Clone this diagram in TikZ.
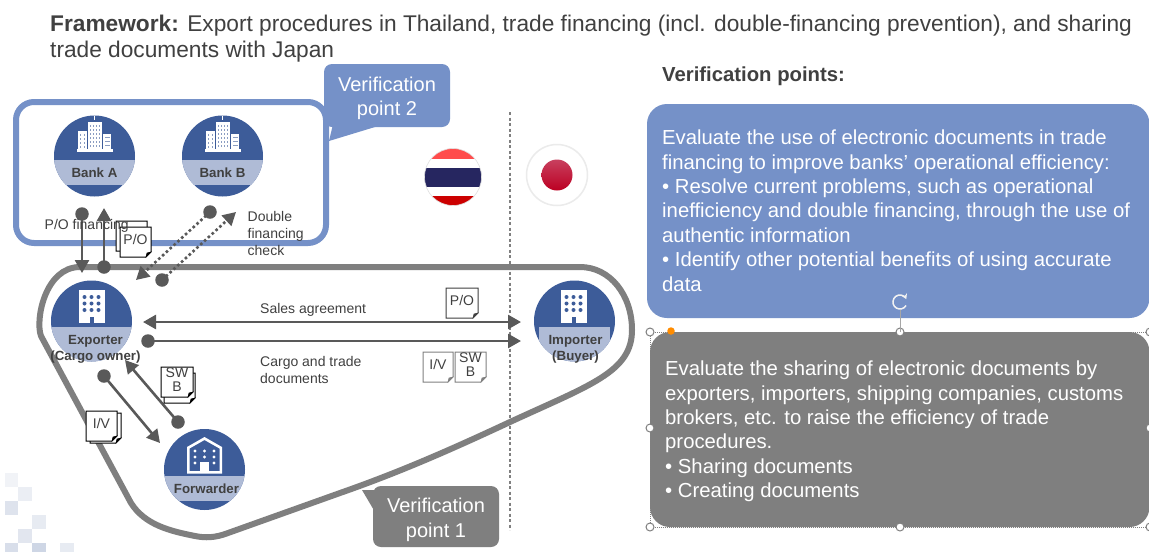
\documentclass[tikz,border=0pt]{standalone}
\usepackage{fontspec}
\setmainfont{Liberation Sans}
\usetikzlibrary{arrows.meta,calc}
\definecolor{vblue}{HTML}{7591C8}
\definecolor{vgrey}{HTML}{7F7F7F}
\definecolor{dblue}{HTML}{3D5C99}
\definecolor{lblue}{HTML}{AFBBD6}
\definecolor{ink}{HTML}{404040}
\definecolor{arrowc}{HTML}{595959}
\definecolor{thnavy}{HTML}{262660}
\definecolor{suntop}{HTML}{C8405F}
\definecolor{sunbot}{HTML}{BC0022}
\tikzset{
  flow/.style={draw=arrowc,line width=2.6pt,-{Triangle[length=13pt,width=14pt]}},
  flowboth/.style={draw=arrowc,line width=2.6pt,{Triangle[length=13pt,width=14pt]}-{Triangle[length=13pt,width=14pt]}},
  dotflow/.style={draw=arrowc,line width=2.6pt,dash pattern=on 2.6pt off 2.6pt,-{Triangle[length=13pt,width=14pt]}},
  enddot/.style={circle,fill=arrowc,minimum size=13.5pt,inner sep=0pt},
  small/.style={font=\fontsize{14}{17}\selectfont,text=ink,inner sep=0pt,align=left},
  actor/.style={font=\fontsize{13.3}{16}\bfseries\selectfont,text=ink,inner sep=0pt,align=center},
  docl/.style={font=\fontsize{14}{14}\selectfont,text=ink,inner sep=0pt,align=center},
  handle/.style={circle,draw=gray,fill=white,line width=1pt,minimum size=8pt,inner sep=0pt},
  wm/.style={fill=dblue}
}
\newcommand{\sheet}[7]{% name x y w h text colour
  \draw[draw=#7,fill=white,line width=1pt]
    (#2,#3) -- ++(#4,0) -- ++(0,#5-5) -- ++(-5,5) -- ++(5-#4,0) -- cycle;
  \draw[draw=#7,fill=#7,line width=.6pt] (#2+#4-5,#3+#5) -- ++(1,-4) -- ++(4,-1) -- cycle;
  \node[docl] (#1) at (#2+#4/2,#3+#5/2-2.5) {#6};
}
\newcommand{\bankicon}[2]{% centre x, base y
  \begin{scope}[shift={(#1,#2)}]
    \fill[white] (-18,-4) rectangle (18,-1.5);
    \fill[white] (-17,-22) rectangle (-8,-3);
    \fill[white] (-7,-31) rectangle (7,-3);
    \fill[white] (8,-19) rectangle (16,-3);
    \fill[white] (-5,-31) arc (180:0:5) -- cycle;
    \fill[white] (-.8,-37) rectangle (.8,-33);
    \foreach \xx in {-15,-11}\foreach \yy in {-19,-15,-11,-7}\fill[dblue!60] (\xx,\yy) rectangle +(1.6,1.6);
    \foreach \xx in {-5,-2,1,4}\foreach \yy in {-28,-24,-20,-16,-12,-8}\fill[dblue!60] (\xx,\yy) rectangle +(1.3,1.6);
    \foreach \yy in {-16,-12,-8}\fill[dblue!60] (10,\yy) rectangle +(5,1.2);
  \end{scope}
}
\newcommand{\officeicon}[2]{% centre x, top y
  \begin{scope}[shift={(#1,#2)}]
    \fill[white] (-13,0) rectangle (13,33);
    \foreach \xx in {-7,0,7}\foreach \yy in {7,13.5,20}\fill[dblue] (\xx,\yy) circle (2);
    \fill[dblue] (-2,27) rectangle (2,33);
  \end{scope}
}
\newcommand{\actorbase}[4]{% name cx cy band
  \begin{scope}
    \clip (#2,#3) circle (40.5);
    \fill[dblue] (#2-41,#3-41) rectangle (#2+41,#3+41);
    #4
  \end{scope}
  \coordinate (#1) at (#2,#3);
}
\begin{document}
\begin{tikzpicture}[x=1pt,y=-1pt]
\useasboundingbox (0,0) rectangle (1149,552);
\clip (0,0) rectangle (1149,552);
\fill[white] (0,0) rectangle (1149,552);

% watermark
\fill[wm,opacity=.07] (5,473) rectangle (18,487);
\fill[wm,opacity=.10] (18,487) rectangle (32,501);
\fill[wm,opacity=.17] (5,501) rectangle (18,515);
\fill[wm,opacity=.12] (32,515) rectangle (46,529);
\fill[wm,opacity=.15] (18,529) rectangle (32,543);
\fill[wm,opacity=.20] (5,543) rectangle (18,552);
\fill[wm,opacity=.25] (32,543) rectangle (46,552);
\fill[wm,opacity=.12] (60,543) rectangle (74,552);

% title
\node[anchor=north west,inner sep=0pt,align=left,text=ink,font=\fontsize{22.7}{26}\selectfont] (title) at (50,14.5)
 {\textbf{Framework:} Export procedures in Thailand, trade financing (incl. double-financing prevention), and sharing\\trade documents with Japan};

% country divider
\coordinate (divtop) at (510,112);
\coordinate (divbot) at (510,530);
\draw[gray,line width=1.2pt,dash pattern=on 3pt off 2.5pt] (divtop) -- (divbot);

% verification frame 2
\draw[vblue,line width=6pt,rounded corners=18pt] (16,102) rectangle (326,243);
% callout 2
\fill[vblue,rounded corners=8pt] (324,64) -- (450,64) -- (450,127) -- (324,127) -- cycle;
\fill[vblue] (375,127) -- (329,141) -- (334,120) -- cycle;
\node[inner sep=0pt,align=center,text=white,font=\fontsize{20}{24.5}\selectfont] (vp2) at (387,98.5) {Verification\\point 2};

% verification loop 1
\draw[vgrey,line width=6pt] (80,267) -- (580,267)
  .. controls (610,267) and (632,295) .. (632,330)
  .. controls (632,372) and (590,385) .. (510,422)
  .. controls (450,450) and (400,472) .. (340,493)
  -- (228,533) .. controls (215,538) and (205,538) .. (195,536)
  .. controls (170,531) and (145,525) .. (131,503)
  -- (41,336) .. controls (35,320) and (45,267) .. (80,267) -- cycle;
% callout 1
\fill[vgrey,rounded corners=8pt] (373,486) rectangle (499,547);
\fill[vgrey] (362,490) -- (380,490) -- (375,512) -- cycle;
\node[inner sep=0pt,align=center,text=white,font=\fontsize{20}{24.5}\selectfont] (vp1) at (436,520) {Verification\\point 1};

% flags
\begin{scope}
  \clip (453,177) circle (28.5);
  \fill[white] (420,145) rectangle (490,210);
  \fill[red!70!white] (420,145) rectangle (490,159);
  \fill[thnavy] (420,168) rectangle (490,187);
  \fill[red!80!black] (420,196) rectangle (490,210);
\end{scope}
\draw[black!12,line width=.6pt] (453,177) circle (28.5);
\node[circle,draw=black!8,line width=1.5pt,fill=white,minimum size=61pt,inner sep=0pt] (jp) at (557,175) {};
\node[circle,top color=suntop,bottom color=sunbot,minimum size=31pt,inner sep=0pt] (jpsun) at (557,175) {};

% actors
\actorbase{bankA}{94.5}{156}{\fill[lblue] (50,160) rectangle (140,185);}
\actorbase{bankB}{222.5}{156}{\fill[lblue] (180,160) rectangle (265,185);}
\actorbase{exporter}{91.5}{321}{\fill[lblue] (50,327) rectangle (135,365);}
\actorbase{importer}{574.5}{321}{\fill[lblue] (539,327) rectangle (610,365);}
\actorbase{forwarder}{204.5}{469.5}{\fill[lblue] (160,476) rectangle (250,501);}

\bankicon{94.5}{153}
\bankicon{222.5}{153}
\officeicon{91.5}{290}
\officeicon{573.5}{290}
% forwarder icon
\fill[white,even odd rule] (187,447) -- (204.5,437) -- (222,447) -- (222,473.5) -- (187,473.5) -- cycle
   (189.5,448.5) -- (204.5,440) -- (219.5,448.5) -- (219.5,471) -- (189.5,471) -- cycle;
\fill[white] (200,462) rectangle (209,472);
\foreach \xx/\yy in {195/451,204.5/451,214/451,195/457,204.5/457,214/457,195/463,214/463}\fill[white] (\xx,\yy) circle (1.7);

\node[actor] (bankAt) at (94.5,173) {Bank A};
\node[actor] (bankBt) at (222.5,173) {Bank B};
\node[actor] (exportert) at (95.5,349) {Exporter\\(Cargo owner)};
\node[actor] (importert) at (575.5,349) {Importer\\(Buyer)};
\node[actor] (forwardert) at (206.5,489) {Forwarder};

% connector ends
\node[enddot] (d1) at (82,214) {};
\coordinate (t1) at (82,273);
\node[enddot] (d2) at (104,267) {};
\coordinate (t2) at (104,208);
\node[enddot] (d3) at (210,212) {};
\coordinate (t3) at (136,280);
\node[enddot] (d4) at (162,280) {};
\coordinate (t4) at (236,212);
\coordinate (s1) at (143,322);
\coordinate (s2) at (521,322);
\node[enddot] (d5) at (148,341) {};
\coordinate (t5) at (521,341);
\node[enddot] (d6) at (104,376) {};
\coordinate (t6) at (160,443);
\node[enddot] (d7) at (178,422) {};
\coordinate (t7) at (125,360);

\draw[flow] (d1.center) -- (t1);
\draw[flow] (d2.center) -- (t2);
\draw[dotflow] (d3.center) -- (t3);
\draw[dotflow] (d4.center) -- (t4);
\draw[flowboth] (s1) -- (s2);
\draw[flow] (d5.center) -- (t5);
\draw[flow] (d6.center) -- (t6);
\draw[flow] (d7.center) -- (t7);

% documents
\sheet{pob}{116}{221}{31}{30}{}{black}
\sheet{po1}{120}{227}{31}{30}{P/O}{black}
\sheet{swbb}{164}{373}{31}{30}{}{black}
\sheet{swb1}{161}{367}{32}{30}{SW\\B}{black}
\sheet{ivb}{90}{413}{31}{30}{}{black}
\sheet{iv1}{86}{411}{31}{30}{I/V}{black}
\sheet{po2}{446}{288}{32}{30}{P/O}{ink}
\sheet{iv2}{423}{352}{30}{30}{I/V}{gray}
\sheet{swb2}{455}{352}{31}{30}{SW\\B}{gray}

% labels
\node[small,anchor=west] (pofin) at (44.5,226) {P/O financing};
\node[small,anchor=north west] (dfc) at (247.5,211) {Double\\financing\\check};
\node[small,anchor=west] (sales) at (260,310) {Sales agreement};
\node[small,anchor=north west] (cargo) at (260,356.5) {Cargo and trade\\documents};

% right column
\node[anchor=west,inner sep=0pt,text=ink,font=\fontsize{20.3}{24}\bfseries\selectfont] (vphead) at (662,76) {Verification points:};
\fill[vblue,rounded corners=20pt] (647,104) rectangle (1149.5,318);
\node[anchor=north west,inner sep=0pt,align=left,text=white,font=\fontsize{20.3}{24.35}\selectfont] (vbt) at (662,130)
 {Evaluate the use of electronic documents in trade\\financing to improve banks’ operational efficiency:\\• Resolve current problems, such as operational\\inefficiency and double financing, through the use of\\authentic information\\• Identify other potential benefits of using accurate\\data};
\fill[vgrey,rounded corners=20pt] (650,332) rectangle (1149.5,527);
\node[anchor=north west,inner sep=0pt,align=left,text=white,font=\fontsize{20.3}{24.35}\selectfont] (gbt) at (665,361)
 {Evaluate the sharing of electronic documents by\\exporters, importers, shipping companies, customs\\brokers, etc. to raise the efficiency of trade\\procedures.\\• Sharing documents\\• Creating documents};

% selection marks
\draw[gray,line width=.6pt,dash pattern=on 1pt off 1pt] (650,332) rectangle (1150,527);
\node[handle] (hrot) at (900,332) {};
\draw[gray!70,line width=1pt] (hrot.center) -- (900,310);
\draw[white!90!gray,line width=1.5pt,-{Stealth[length=5pt,width=6pt]}] (906,305.5) arc (30:335:7);
\node[handle] (h1) at (650,332) {};
\node[handle] (h2) at (1150,332) {};
\node[handle] (h3) at (650,428) {};
\node[handle] (h4) at (1150,428) {};
\node[handle] (h5) at (650,527) {};
\node[handle] (h6) at (900,527) {};
\node[handle] (h7) at (1150,527) {};
\node[circle,fill=orange!90!yellow,minimum size=7.5pt,inner sep=0pt] (yh) at (671,331) {};
\end{tikzpicture}
\end{document}
